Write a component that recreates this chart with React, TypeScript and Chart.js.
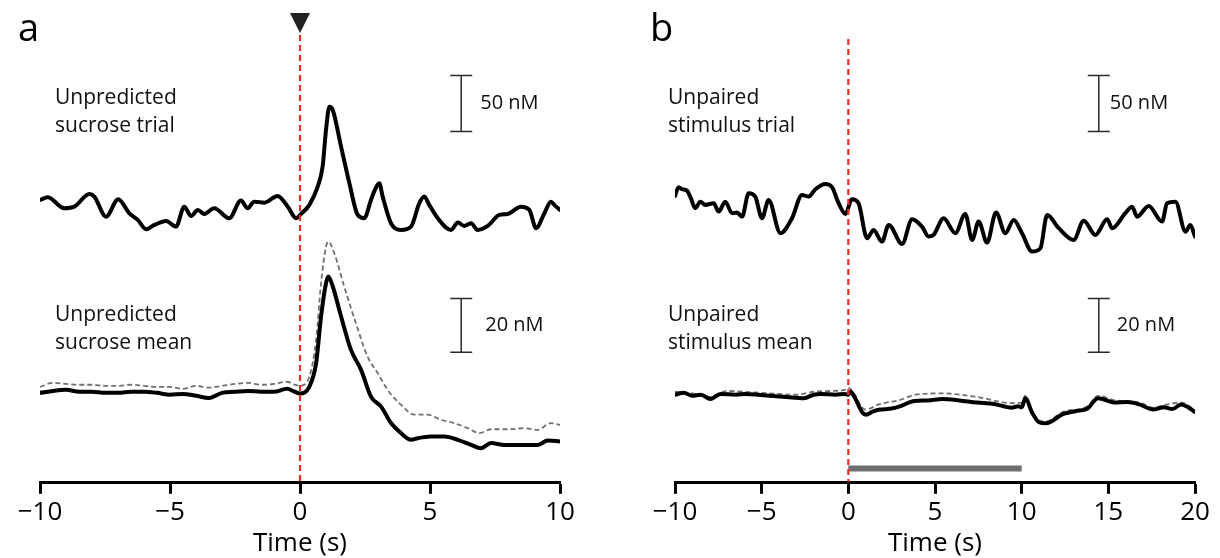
import React, { useEffect, useRef } from 'react';
import { Chart, registerables } from 'chart.js';

Chart.register(...registerables);

// ---------- Panel a : unpredicted sucrose ----------
const trialATime = [-10, -9.7, -9.07, -8.68, -8.1, -7.91, -7.46, -6.99, -6.57, -6.24, -5.92, -5.6, -5.15, -4.77, -4.45, -4.19, -3.93, -3.68, -3.3, -2.72, -2.27, -2.01, -1.76, -1.37, -0.86, -0.47, -0.15, 0.04, 0.36, 0.68, 0.87, 1.0, 1.13, 1.26, 1.58, 1.9, 2.22, 2.47, 2.73, 2.88, 3.05, 3.18, 3.5, 3.88, 4.27, 4.59, 4.78, 4.97, 5.3, 5.81, 6.07, 6.32, 6.58, 6.83, 7.22, 7.67, 7.99, 8.5, 8.82, 9.08, 9.4, 9.65, 9.78, 10];
const trialAValue = [8.9, 11.3, 1.5, 2.9, 14.3, 11.9, -6.0, 9.6, -2.9, -8.9, -17.2, -13.4, -9.8, -14.9, 2.9, -5.4, 0, -3.6, 1.5, -7.4, 8.3, 1.5, 7.4, 6.5, 12.5, 2.9, -7.4, -3.6, 4.5, 20.8, 38.7, 71.4, 92.2, 89.3, 56.5, 23.8, -4.5, -7.4, 8.9, 17.9, 23.8, 11.9, -11.9, -17.9, -14.9, 6.0, 11.9, 4.5, -7.4, -17.9, -11.3, -14.3, -11.9, -17.9, -14.3, -4.5, -3.6, 2.9, 0, -16.3, -2.9, 7.4, 4.5, 0];

const meanATime = [-10, -9.5, -9, -8.5, -8, -7.5, -7, -6.5, -6, -5.5, -5, -4.5, -4, -3.5, -3, -2.5, -2, -1.5, -1, -0.5, -0.2, 0, 0.36, 0.62, 0.81, 1.0, 1.09, 1.26, 1.58, 1.96, 2.35, 2.73, 3.12, 3.5, 3.88, 4.27, 4.53, 5.04, 5.55, 6.07, 6.58, 6.96, 7.35, 7.86, 8.63, 9.14, 9.53, 10];
const meanAValue = [0, 0.7, 1.1, 0.4, 0.4, 0, 0, 0.4, 0.4, 0, -0.7, -0.4, -1.1, -1.9, 0, 0.4, 0.7, 0.4, 0.4, 1.5, 0.4, -0.2, 2.3, 11.0, 28.3, 40.6, 43.1, 39.4, 28.3, 15.9, 8.5, -1.4, -5.1, -11.2, -14.9, -17.4, -16.8, -16.2, -16.2, -17.4, -19.3, -20.5, -18.6, -19.3, -19.3, -19.3, -17.7, -18.0];

const meanADashTime = [-10, -9.5, -9, -8.5, -8, -7.5, -7, -6.5, -6, -5.5, -5, -4.5, -4, -3.5, -3, -2.5, -2, -1.5, -1, -0.5, -0.2, 0, 0.36, 0.62, 0.81, 1.0, 1.09, 1.32, 1.7, 2.15, 2.6, 2.99, 3.37, 3.88, 4.4, 4.91, 5.42, 5.93, 6.45, 6.9, 7.35, 7.99, 8.63, 9.14, 9.65, 10];
const meanADashValue = [2.2, 3.7, 3.3, 3.0, 3.0, 2.6, 2.6, 3.0, 2.6, 2.2, 2.2, 1.5, 2.6, 1.9, 2.6, 3.3, 3.7, 3.0, 3.3, 4.1, 3.0, 2.6, 6.0, 19.6, 40.6, 54.2, 56.0, 51.7, 39.4, 25.8, 13.4, 7.3, 1.1, -4.4, -8.1, -8.1, -10.0, -11.2, -13.1, -14.9, -13.5, -13.5, -13.1, -13.7, -11.2, -11.9];

// ---------- Panel b : unpaired stimulus ----------
const trialBTime = [-10, -9.79, -9.6, -9.31, -9.12, -8.83, -8.54, -8.25, -7.77, -7.48, -7.1, -6.71, -6.42, -6.13, -5.75, -5.37, -4.98, -4.6, -3.92, -3.25, -2.67, -2.29, -1.9, -1.33, -0.94, -0.56, -0.17, 0.21, 0.59, 1.08, 1.46, 1.94, 2.33, 3.1, 3.68, 4.25, 4.63, 4.92, 5.5, 6.17, 6.75, 7.14, 7.52, 8.0, 8.52, 9.06, 9.54, 10.02, 10.6, 11.08, 11.47, 12.14, 13.0, 13.58, 14.25, 14.93, 15.22, 15.98, 16.37, 16.66, 17.33, 18.1, 18.39, 18.87, 19.45, 19.73, 20];
const trialBValue = [12.5, 20.3, 18.5, 17.2, 11.9, 1.5, 7.4, 4.5, 6.0, -1.5, 7.4, -2.9, -2.4, -6.0, 14.9, 11.9, -7.4, 8.9, -20.8, -7.4, 13.4, 11.9, 18.5, 23.2, 20.3, 6.0, -3.6, 9.6, 6.0, -25.3, -17.9, -28.3, -13.4, -30.4, -8.3, -14.9, -23.8, -22.3, -7.4, -20.8, -3.6, -26.8, -10.4, -29.2, -2.4, -20.8, -8.9, -20.8, -37.2, -34.2, -4.5, -16.3, -26.8, -9.6, -22.3, -8.3, -16.3, -2.9, 2.9, -6.0, 3.6, -10.4, 6.0, 7.4, -19.4, -13.4, -23.8];

const meanBTime = [-10, -9.5, -9, -8.5, -7.96, -7.36, -6.5, -5.94, -5.2, -4.57, -3.6, -2.57, -2.0, -1.58, -0.75, -0.2, 0, 0.12, 0.32, 0.82, 1.02, 1.4, 1.82, 2.4, 3.02, 3.81, 4.6, 5.41, 6.4, 7.41, 8.4, 9.41, 9.8, 10.01, 10.21, 10.61, 11.0, 11.4, 12.4, 13.1, 13.8, 14.4, 15.4, 16.1, 16.79, 17.6, 18.2, 18.7, 19.19, 19.6, 20];
const meanBValue = [-0.7, 0, -1.1, -0.7, -2.3, -0.4, -0.7, -0.4, -0.7, -1.1, -1.5, -2.0, -0.7, -0.4, -0.7, -0.4, -0.7, 0.4, -1.1, -7.4, -8.1, -7.0, -6.2, -5.9, -4.9, -3.0, -2.8, -2.3, -2.8, -3.6, -4.1, -5.5, -5.0, -5.3, -2.0, -7.4, -10.9, -11.3, -7.8, -6.8, -5.8, -2.0, -3.6, -3.4, -4.3, -6.2, -5.3, -6.0, -4.3, -5.3, -7.1];

const meanBDashTime = [-10, -9, -8, -7, -6, -5, -4, -3, -2, -1, -0.2, 0, 0.3, 0.8, 1.0, 1.8, 3.0, 3.8, 5.4, 7.4, 9.4, 10.0, 10.2, 10.6, 11.0, 11.4, 12.4, 13.8, 14.4, 15.4, 16.8, 17.6, 18.2, 19.2, 20];
const meanBDashValue = [0.4, -0.2, -1.5, 0.7, 0.4, 0, -0.4, -0.7, 0.4, 0.7, 1.1, 1.9, 0, -5.5, -6.2, -4.2, -2.6, -0.8, -0.2, -1.5, -3.8, -3.6, -1.1, -6.6, -10.2, -10.6, -7.0, -5.0, -1.1, -2.8, -3.6, -5.5, -4.6, -3.6, -6.4];

// stimulus bar (time span, level on mean axis)
const stimBarTime = [0, 10];
const stimBarLevel = -28;

// x-axis ticks
const xTicksA = [-10, -5, 0, 5, 10];
const xTicksB = [-10, -5, 0, 5, 10, 15, 20];

// scale bars (nM)
const scaleBarLabels = ['50 nM', '20 nM'];
const scaleBarAxes = ['yT', 'yM'];
const scaleBarFrom = [70, 15];
const scaleBarTo = [120, 35];

const labelsA = [['Unpredicted', 'sucrose trial'], ['Unpredicted', 'sucrose mean']];
const labelsB = [['Unpaired', 'stimulus trial'], ['Unpaired', 'stimulus mean']];

const FONT = "'Open Sans', 'DejaVu Sans', sans-serif";
const AXIS_BOTTOM = 483;

const zip = (t: number[], v: number[]) => t.map((x, i) => ({ x, y: v[i] }));

type Panel = {
  id: string;
  letter: string;
  xMin: number;
  xMax: number;
  ticks: number[];
  padLeft: number;
  padRight: number;
  trialT: number[]; trialV: number[];
  meanT: number[]; meanV: number[];
  dashT: number[]; dashV: number[];
  stim: boolean;
  triangle: boolean;
  redTop: number;
  scaleX: number;
  scaleLabelDx: number[];
  labels: string[][];
  labelX: number;
  letterX: number;
};

const panels: Panel[] = [
  {
    id: 'a', letter: 'a', xMin: -10, xMax: 10, ticks: xTicksA, padLeft: 40, padRight: 50,
    trialT: trialATime, trialV: trialAValue, meanT: meanATime, meanV: meanAValue,
    dashT: meanADashTime, dashV: meanADashValue, stim: false, triangle: true, redTop: 35,
    scaleX: 6.2, scaleLabelDx: [19, 24], labels: labelsA, labelX: 55, letterX: 18,
  },
  {
    id: 'b', letter: 'b', xMin: -10, xMax: 20, ticks: xTicksB, padLeft: 65, padRight: 25,
    trialT: trialBTime, trialV: trialBValue, meanT: meanBTime, meanV: meanBValue,
    dashT: meanBDashTime, dashV: meanBDashValue, stim: true, triangle: false, redTop: 39,
    scaleX: 14.45, scaleLabelDx: [11, 18], labels: labelsB, labelX: 58, letterX: 40,
  },
];

// y ranges: trial 1.12 px/nM with baseline at y=210, mean 2.7 px/nM baseline at y=393
const trialPx = 1.12, trialBase = 210;
const meanPx = 2.7, meanBase = 393;
const yTMin = -(AXIS_BOTTOM - trialBase) / trialPx;
const yTMax = yTMin + AXIS_BOTTOM / trialPx;
const yMMin = -(AXIS_BOTTOM - meanBase) / meanPx;
const yMMax = yMMin + AXIS_BOTTOM / meanPx;

function overlay(p: Panel) {
  return {
    id: 'overlay_' + p.id,
    afterDatasetsDraw(chart: any) {
      const ctx = chart.ctx;
      const xs = chart.scales.x;
      const area = chart.chartArea;
      const x0 = xs.getPixelForValue(0);
      ctx.save();
      // red dashed onset line
      ctx.strokeStyle = '#ee2b25';
      ctx.lineWidth = 2.2;
      ctx.setLineDash([6, 4]);
      ctx.beginPath();
      ctx.moveTo(x0, p.redTop);
      ctx.lineTo(x0, area.bottom - 1);
      ctx.stroke();
      ctx.setLineDash([]);
      // triangle marker
      if (p.triangle) {
        ctx.fillStyle = '#222';
        ctx.beginPath();
        ctx.moveTo(x0 - 10, 13);
        ctx.lineTo(x0 + 10, 13);
        ctx.lineTo(x0, 33);
        ctx.closePath();
        ctx.fill();
      }
      // scale bars
      const bx = xs.getPixelForValue(p.scaleX);
      ctx.strokeStyle = '#2a2a2a';
      ctx.fillStyle = '#111';
      ctx.lineWidth = 1.5;
      ctx.font = `20px ${FONT}`;
      ctx.textBaseline = 'middle';
      ctx.textAlign = 'left';
      scaleBarLabels.forEach((lab, i) => {
        const sc = chart.scales[scaleBarAxes[i]];
        const y1 = sc.getPixelForValue(scaleBarFrom[i]);
        const y2 = sc.getPixelForValue(scaleBarTo[i]);
        ctx.beginPath();
        ctx.moveTo(bx, y1); ctx.lineTo(bx, y2);
        ctx.moveTo(bx - 11, y1); ctx.lineTo(bx + 11, y1);
        ctx.moveTo(bx - 11, y2); ctx.lineTo(bx + 11, y2);
        ctx.stroke();
        ctx.fillText(lab, bx + p.scaleLabelDx[i], (y1 + y2) / 2);
      });
      // trace labels
      ctx.font = `21px ${FONT}`;
      ctx.textBaseline = 'alphabetic';
      const baseY = [[104, 132], [321, 349]];
      p.labels.forEach((lines, i) => {
        lines.forEach((ln, j) => ctx.fillText(ln, p.labelX, baseY[i][j]));
      });
      // panel letter
      ctx.font = `38px ${FONT}`;
      ctx.fillStyle = '#000';
      ctx.fillText(p.letter, p.letterX, 41);
      ctx.restore();
    },
  };
}

function PanelChart({ p }: { p: Panel }) {
  const ref = useRef<HTMLCanvasElement | null>(null);
  useEffect(() => {
    if (!ref.current) return;
    const datasets: any[] = [
      {
        data: zip(p.trialT, p.trialV), yAxisID: 'yT', borderColor: '#000', borderWidth: 4,
        pointRadius: 0, cubicInterpolationMode: 'monotone', borderJoinStyle: 'round', borderCapStyle: 'round',
      },
      {
        data: zip(p.meanT, p.meanV), yAxisID: 'yM', borderColor: '#000', borderWidth: 4,
        pointRadius: 0, cubicInterpolationMode: 'monotone', borderJoinStyle: 'round', borderCapStyle: 'round',
      },
      {
        data: zip(p.dashT, p.dashV), yAxisID: 'yM', borderColor: '#707070', borderWidth: 1.8,
        borderDash: [5, 3], pointRadius: 0, cubicInterpolationMode: 'monotone',
      },
    ];
    if (p.stim) {
      datasets.push({
        data: zip(stimBarTime, [stimBarLevel, stimBarLevel]), yAxisID: 'yM', borderColor: '#6e6e6e',
        borderWidth: 6, pointRadius: 0, borderCapStyle: 'butt',
      });
    }
    const chart = new Chart(ref.current, {
      type: 'line',
      data: { datasets },
      options: {
        animation: false,
        responsive: false,
        maintainAspectRatio: false,
        layout: { padding: { left: p.padLeft, right: p.padRight, top: 0, bottom: 0 } },
        plugins: { legend: { display: false }, tooltip: { enabled: false } },
        scales: {
          x: {
            type: 'linear', min: p.xMin, max: p.xMax,
            afterBuildTicks: (s: any) => { s.ticks = p.ticks.map((v) => ({ value: v })); },
            ticks: {
              autoSkip: false, maxRotation: 0, padding: 3, color: '#000',
              font: { family: FONT, size: 26 },
              callback: (v: any) => String(v).replace('-', '\u2212'),
            },
            grid: { drawOnChartArea: false, drawTicks: true, tickLength: 11, tickWidth: 3, tickColor: '#000' },
            border: { display: true, color: '#000', width: 3 },
            title: { display: true, text: 'Time (s)', color: '#000', font: { family: FONT, size: 26, lineHeight: 1.0 }, padding: { top: 0, bottom: 1 } },
          },
          yT: { type: 'linear', display: false, min: yTMin, max: yTMax },
          yM: { type: 'linear', display: false, min: yMMin, max: yMMax },
        },
      } as any,
      plugins: [overlay(p)],
    });
    return () => chart.destroy();
  }, [p]);
  return <canvas ref={ref} width={610} height={558} style={{ display: 'block', width: 610, height: 558 }} />;
}

export default function App() {
  return (
    <div style={{ position: 'absolute', left: 0, top: 0, width: 1220, height: 558, display: 'flex', background: '#fff' }}>
      {panels.map((p) => <PanelChart key={p.id} p={p} />)}
    </div>
  );
}
